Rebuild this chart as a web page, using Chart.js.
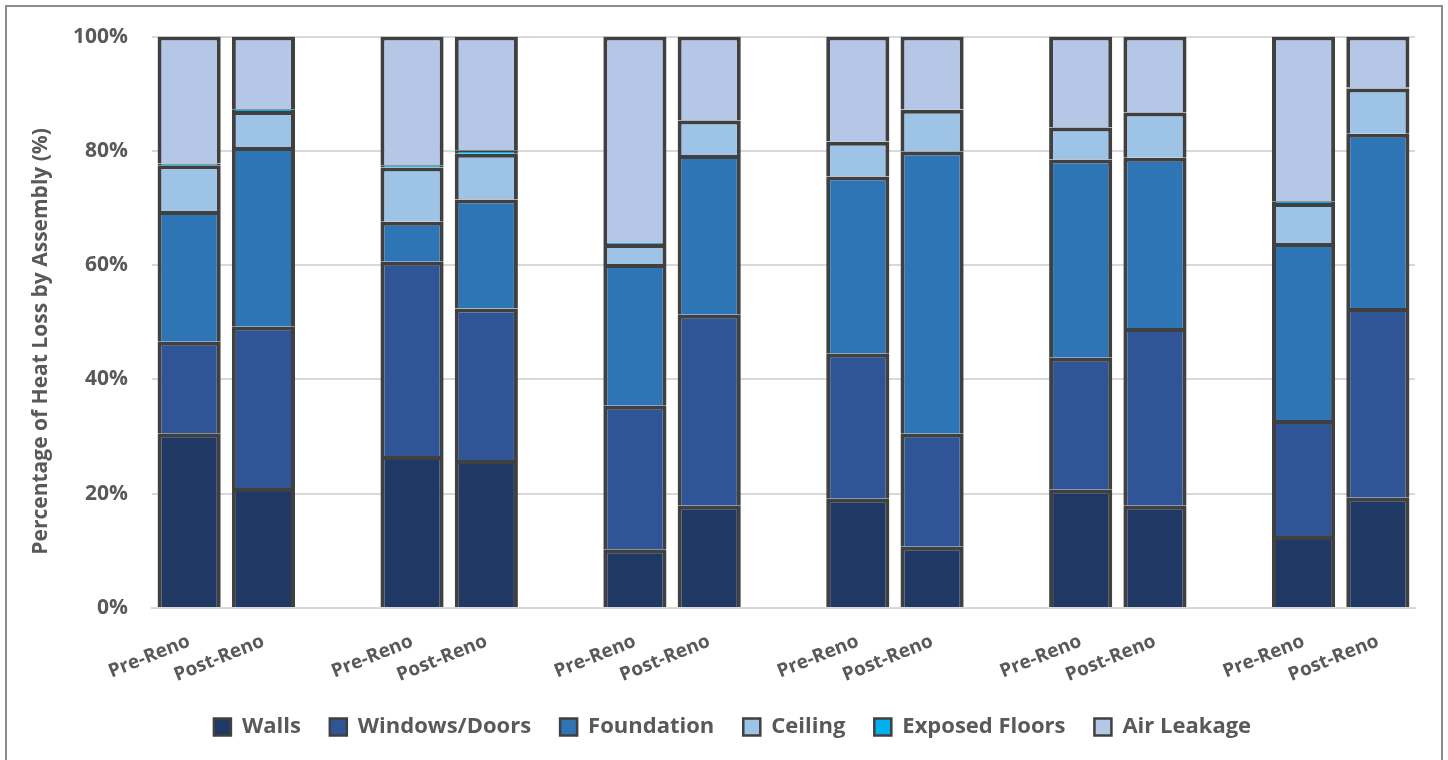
<!DOCTYPE html>
<html>
<head>
<meta charset="utf-8">
<script src="https://cdn.jsdelivr.net/npm/chart.js@4"></script>
<style>
  html, body { margin: 0; padding: 0; background: #fff; }
  #wrap { position: relative; width: 1448px; height: 760px; }
</style>
</head>
<body>
<div id="wrap"><canvas id="heatChart" width="1448" height="760"></canvas></div>
<script>
// categories: 6 houses, Pre/Post pairs with an empty slot between groups
const labels = ['Pre-Reno', 'Post-Reno', '', 'Pre-Reno', 'Post-Reno', '', 'Pre-Reno', 'Post-Reno', '',
  'Pre-Reno', 'Post-Reno', '', 'Pre-Reno', 'Post-Reno', '', 'Pre-Reno', 'Post-Reno'];

// share of heat loss (%) per assembly
const walls = [30.6, 21.0, null, 26.6, 25.9, null, 10.3, 17.9, null, 19.1, 10.7, null, 20.7, 17.9, null, 12.6, 19.3];
const windowsDoors = [16.0, 28.2, null, 34.0, 26.5, null, 25.1, 33.4, null, 25.4, 19.8, null, 23.1, 31.1, null, 20.3, 33.2];
const foundation = [22.9, 31.5, null, 7.0, 19.1, null, 24.8, 28.0, null, 31.0, 49.4, null, 34.7, 29.8, null, 31.0, 30.5];
const ceiling = [8.0, 6.3, null, 9.5, 8.0, null, 3.5, 6.0, null, 6.1, 7.3, null, 5.6, 7.9, null, 7.0, 7.9];
const exposedFloors = [0.3, 0.3, null, 0.4, 0.6, null, 0.2, 0.1, null, 0.1, 0.1, null, 0.1, 0.1, null, 0.3, 0.2];
const airLeakage = [22.2, 12.7, null, 22.5, 19.9, null, 36.1, 14.6, null, 18.3, 12.7, null, 15.8, 13.2, null, 28.8, 8.9];

const yTicks = [0, 20, 40, 60, 80, 100];

const textGray = '#595959';
const fontFam = "'Open Sans', 'Noto Sans', sans-serif";

function series(label, data, color) {
  return {
    label: label,
    data: data,
    backgroundColor: color,
    borderColor: '#404040',
    borderWidth: 4,
    borderSkipped: 'start',
    inflateAmount: 0,
    categoryPercentage: 1.0,
    barPercentage: 0.85,
  };
}

// outer frame around the whole figure, and nudge the legend to where it sits in the original
const framePlugin = {
  id: 'frame',
  afterLayout(chart) {
    const lg = chart.legend;
    if (lg) {
      lg.left += 11;
      lg.right += 11;
    }
  },
  beforeDraw(chart) {
    const ctx = chart.ctx;
    ctx.save();
    ctx.fillStyle = '#fff';
    ctx.fillRect(0, 0, chart.width, chart.height);
    ctx.strokeStyle = '#8c8c8c';
    ctx.lineWidth = 2;
    ctx.strokeRect(6, 6, chart.width - 12, chart.height + 10);
    ctx.restore();
  }
};

new Chart(document.getElementById('heatChart'), {
  type: 'bar',
  data: {
    labels: labels,
    datasets: [
      series('Walls', walls, '#1F3864'),
      series('Windows/Doors', windowsDoors, '#2F5597'),
      series('Foundation', foundation, '#2E75B6'),
      series('Ceiling', ceiling, '#9DC3E6'),
      series('Exposed Floors', exposedFloors, '#00B0F0'),
      series('Air Leakage', airLeakage, '#B4C7E7'),
    ]
  },
  options: {
    responsive: false,
    animation: false,
    layout: { padding: { left: 28, right: 33, top: 35, bottom: 12 } },
    plugins: {
      tooltip: { enabled: false },
      legend: {
        position: 'bottom',
        labels: {
          color: textGray,
          font: { family: fontFam, size: 22, weight: 'bold' },
          boxWidth: 17,
          boxHeight: 17,
          padding: 29,
          generateLabels(chart) {
            return chart.data.datasets.map((ds, i) => ({
              text: ds.label,
              fillStyle: ds.backgroundColor,
              strokeStyle: '#404040',
              lineWidth: 2.5,
              fontColor: textGray,
              datasetIndex: i,
              hidden: false,
            }));
          }
        }
      }
    },
    scales: {
      x: {
        stacked: true,
        grid: { display: false },
        border: { color: '#d9d9d9', width: 2 },
        ticks: {
          color: textGray,
          font: { family: fontFam, size: 19, weight: 'bold' },
          autoSkip: false,
          minRotation: 22,
          maxRotation: 22,
          padding: 14,
        },
        afterFit(scale) { scale.height = 79; }
      },
      y: {
        stacked: true,
        min: 0,
        max: 100,
        afterBuildTicks(scale) { scale.ticks = yTicks.map(v => ({ value: v })); },
        grid: { color: '#d9d9d9', lineWidth: 2, drawTicks: false },
        border: { display: false },
        ticks: {
          color: textGray,
          font: { family: fontFam, size: 21, weight: 'bold' },
          padding: 24,
          callback: v => v + '%',
        },
        title: {
          display: true,
          // trailing spaces push the title down a little, like the original
          text: 'Percentage of Heat Loss by Assembly (%)' + '\u00a0'.repeat(7),
          color: textGray,
          font: { family: fontFam, size: 21, weight: 'bold' },
          padding: { top: 0, bottom: 10 },
        },
        afterFit(scale) { scale.width = 124; }
      }
    }
  },
  plugins: [framePlugin]
});
</script>
</body>
</html>
